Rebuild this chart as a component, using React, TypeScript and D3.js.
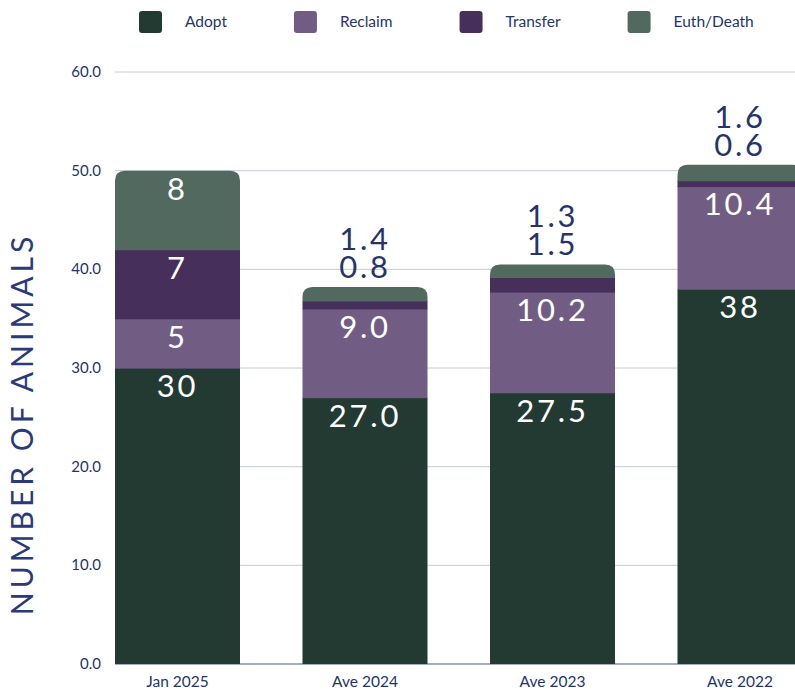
import React, { useMemo } from "react";
import * as d3 from "d3";

const categories = ["Jan 2025", "Ave 2024", "Ave 2023", "Ave 2022"];
const seriesNames = ["Adopt", "Reclaim", "Transfer", "Euth/Death"];
const adopt = [30, 27.0, 27.5, 38];
const reclaim = [5, 9.0, 10.2, 10.4];
const transfer = [7, 0.8, 1.5, 0.6];
const euth = [8, 1.4, 1.3, 1.6];
const adoptLabels = ["30", "27.0", "27.5", "38"];
const reclaimLabels = ["5", "9.0", "10.2", "10.4"];
const transferLabels = ["7", "0.8", "1.5", "0.6"];
const euthLabels = ["8", "1.4", "1.3", "1.6"];
const yTicks = [0, 10, 20, 30, 40, 50, 60];
const colors = ["#233a33", "#715d84", "#472f5b", "#52695f"];

const W = 795;
const H = 690;
const FONT = "Lato, 'Open Sans', sans-serif";
const NAVY = "#26346b";

function measure(text: string, font: string): number {
  const c = document.createElement("canvas");
  const ctx = c.getContext("2d");
  if (!ctx) return text.length * 8;
  ctx.font = font;
  return ctx.measureText(text).width;
}

function topRoundedRect(x: number, y: number, w: number, h: number, r: number) {
  const rr = Math.min(r, h, w / 2);
  return `M${x},${y + h}V${y + rr}Q${x},${y} ${x + rr},${y}H${x + w - rr}Q${x + w},${y} ${x + w},${y + rr}V${y + h}Z`;
}

export default function App() {
  const y = d3.scaleLinear().domain([0, 60]).range([664, 72]);
  const x = d3
    .scaleBand<string>()
    .domain(categories)
    .range([115, 802.5])
    .paddingInner(1 / 3)
    .paddingOuter(0);

  const rows = categories.map((c, i) => ({
    cat: c,
    Adopt: adopt[i],
    Reclaim: reclaim[i],
    Transfer: transfer[i],
    "Euth/Death": euth[i],
  }));
  const stack = d3.stack<any>().keys(seriesNames)(rows);
  const labelSets = [adoptLabels, reclaimLabels, transferLabels, euthLabels];

  const legend = useMemo(() => {
    let cx = 139;
    return seriesNames.map((n, i) => {
      const item = { name: n, x: cx, color: colors[i] };
      cx += 46 + measure(n, `15.5px ${FONT}`) + 67;
      return item;
    });
  }, []);

  return (
    <svg
      width={W}
      height={H}
      style={{ position: "absolute", left: 0, top: 0, background: "#fff" }}
      fontFamily={FONT}
    >
      {/* legend */}
      {legend.map((l) => (
        <g key={l.name}>
          <rect x={l.x} y={11} width={23} height={22} rx={3} fill={l.color} />
          <text x={l.x + 46} y={27} fontSize={15.5} fill={NAVY}>
            {l.name}
          </text>
        </g>
      ))}

      {/* grid */}
      {yTicks.map((t) => (
        <g key={t}>
          <line
            x1={115}
            x2={W}
            y1={y(t)}
            y2={y(t)}
            stroke={t === 0 ? "#8890b0" : "#c8cbdc"}
            strokeWidth={t === 0 ? 1.5 : 1}
          />
          <text
            x={101}
            y={y(t) + 5}
            textAnchor="end"
            fontSize={15}
            fill={NAVY}
          >
            {d3.format(".1f")(t)}
          </text>
        </g>
      ))}

      {/* bars */}
      {categories.map((c, i) => {
        const bx = x(c)!;
        const bw = x.bandwidth();
        return (
          <g key={c}>
            {stack.map((s, si) => {
              const d = s[i];
              const y0 = y(d[0]);
              const y1 = y(d[1]);
              const ext = si === 0 ? 0 : 0.6;
              if (si === stack.length - 1) {
                return (
                  <path
                    key={si}
                    d={topRoundedRect(bx, y1, bw, y0 - y1 + ext, 10)}
                    fill={colors[si]}
                  />
                );
              }
              return (
                <rect
                  key={si}
                  x={bx}
                  y={y1}
                  width={bw}
                  height={y0 - y1 + ext}
                  fill={colors[si]}
                />
              );
            })}
          </g>
        );
      })}

      {/* labels */}
      {categories.map((c, i) => {
        const cx = x(c)! + x.bandwidth() / 2;
        const top = y(stack[stack.length - 1][i][1]);
        const out: React.ReactNode[] = [];
        let above = 0;
        stack.forEach((s, si) => {
          const d = s[i];
          const h = y(d[0]) - y(d[1]);
          if (h >= 25) {
            out.push(
              <text
                key={si}
                x={cx}
                y={y(d[1]) + 29}
                textAnchor="middle"
                fontSize={31}
                letterSpacing={2.8}
                fill="#ffffff"
              >
                {labelSets[si][i]}
              </text>
            );
          } else {
            out.push(
              <text
                key={si}
                x={cx}
                y={top - 9 - above * 28}
                textAnchor="middle"
                fontSize={31}
                letterSpacing={2.8}
                fill={NAVY}
              >
                {labelSets[si][i]}
              </text>
            );
            above += 1;
          }
        });
        return <g key={c}>{out}</g>;
      })}

      {/* category labels */}
      {categories.map((c) => (
        <text
          key={c}
          x={x(c)! + x.bandwidth() / 2}
          y={687}
          textAnchor="middle"
          fontSize={15.5}
          fill={NAVY}
        >
          {c}
        </text>
      ))}

      {/* y title */}
      <text
        transform={`translate(33,${424}) rotate(-90)`}
        textAnchor="middle"
        fontSize={30}
        letterSpacing={4}
        fill="#2b3a7a"
      >
        NUMBER OF ANIMALS
      </text>
    </svg>
  );
}
